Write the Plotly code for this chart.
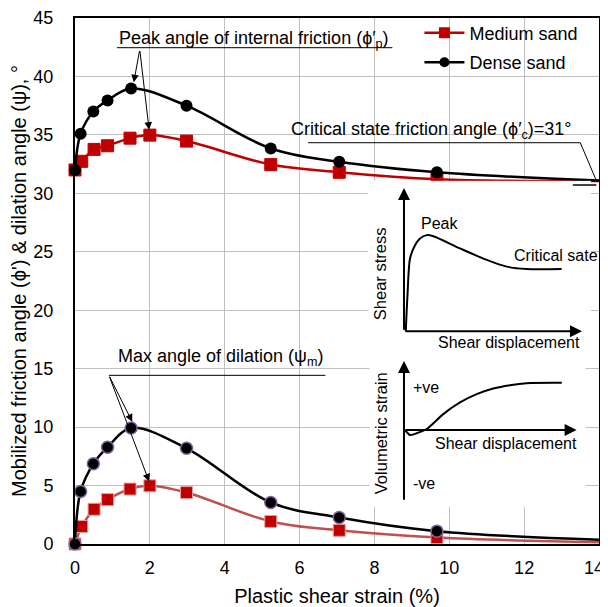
import plotly.graph_objects as go

# ---------------- data ----------------
strain_dense = [0, 0.15, 0.49, 0.87, 1.5, 2.98, 5.23, 7.06, 9.67]
strain_medium = [0, 0.18, 0.51, 0.87, 1.47, 2.0, 2.98, 5.23, 7.06, 9.67]
friction_dense = [32.0, 35.1, 37.0, 37.95, 38.97, 37.5, 33.84, 32.7, 31.8]
friction_medium = [32.0, 32.74, 33.76, 34.07, 34.72, 34.98, 34.47, 32.46, 31.8, 31.2]
dilation_dense = [0, 4.5, 6.86, 8.28, 9.92, 8.19, 3.55, 2.27, 1.1]
dilation_medium = [0, 1.5, 2.97, 3.8, 4.7, 4.98, 4.4, 1.93, 1.17, 0.55]
end_strain = [14]
end_friction_dense = [31.1]
end_friction_medium = [31.05]
end_dilation_dense = [0.37]
end_dilation_medium = [0.15]

# schematic inset curves (arbitrary units)
stress_disp = [0.1, 0.2, 0.34, 0.62, 0.9, 1.28, 1.65, 3.15, 4.65, 5.77, 6.89, 8.86]
stress_val = [0.0, 2.6, 5.08, 6.0, 6.48, 6.71, 6.63, 5.78, 4.98, 4.51, 4.35, 4.35]
vol_disp = [0.06, 0.35, 0.81, 1.31, 2.27, 3.24, 4.2, 5.16, 6.13, 7.09, 9.12]
vol_val = [0.0, -0.36, -0.2, 0.07, 1.13, 1.96, 2.55, 2.95, 3.19, 3.33, 3.36]

x_ticks = [0, 2, 4, 6, 8, 10, 12, 14]
x_ticktext = ["0", "2", "4", "6", "8", "10", "12", "14\u00a0\u00a0"]
y_ticks = [0, 5, 10, 15, 20, 25, 30, 35, 40, 45]

FONT = "Arial, Liberation Sans, sans-serif"
RED = "#C00000"
RED_LIGHT = "#C0504D"

fig = go.Figure()

# medium sand - friction
fig.add_trace(go.Scatter(x=strain_medium + end_strain, y=friction_medium + end_friction_medium,
                         mode="lines", line=dict(color=RED, width=2.5, shape="spline", smoothing=1),
                         showlegend=False, hoverinfo="skip"))
fig.add_trace(go.Scatter(x=strain_medium, y=friction_medium, mode="markers",
                         marker=dict(symbol="square", size=12, color=RED, line=dict(color=RED, width=1)),
                         showlegend=False, cliponaxis=False))
# medium sand - dilation
fig.add_trace(go.Scatter(x=strain_medium + end_strain, y=dilation_medium + end_dilation_medium,
                         mode="lines", line=dict(color=RED_LIGHT, width=2.5, shape="spline", smoothing=1),
                         showlegend=False, hoverinfo="skip", cliponaxis=False))
fig.add_trace(go.Scatter(x=strain_medium, y=dilation_medium, mode="markers",
                         marker=dict(symbol="square", size=12, color=RED, line=dict(color="#E6A0A0", width=1)),
                         showlegend=False, cliponaxis=False))
# dense sand - friction
fig.add_trace(go.Scatter(x=strain_dense + end_strain, y=friction_dense + end_friction_dense,
                         mode="lines", line=dict(color="black", width=2.5, shape="spline", smoothing=1),
                         showlegend=False, hoverinfo="skip"))
fig.add_trace(go.Scatter(x=strain_dense, y=friction_dense, mode="markers",
                         marker=dict(symbol="circle", size=12, color="black"),
                         showlegend=False, cliponaxis=False))
# dense sand - dilation
fig.add_trace(go.Scatter(x=strain_dense + end_strain, y=dilation_dense + end_dilation_dense,
                         mode="lines", line=dict(color="black", width=2.5, shape="spline", smoothing=1),
                         showlegend=False, hoverinfo="skip", cliponaxis=False))
fig.add_trace(go.Scatter(x=strain_dense, y=dilation_dense, mode="markers",
                         marker=dict(symbol="circle", size=12, color="black", line=dict(color="#8064A2", width=1.5)),
                         showlegend=False, cliponaxis=False))

# legend entries
fig.add_trace(go.Scatter(x=[None], y=[None], mode="lines+markers", name="Medium sand",
                         legendgroup="m", line=dict(color=RED, width=2.5),
                         marker=dict(symbol="square", size=11, color=RED)))
fig.add_trace(go.Scatter(x=[None], y=[None], mode="lines+markers", name="Dense sand",
                         legendgroup="d", line=dict(color="black", width=2.5),
                         marker=dict(symbol="circle", size=10, color="black")))

# inset schematic curves
fig.add_trace(go.Scatter(x=stress_disp, y=stress_val, xaxis="x2", yaxis="y2", mode="lines",
                         line=dict(color="black", width=2, shape="spline", smoothing=0.8),
                         showlegend=False, hoverinfo="skip"))
fig.add_trace(go.Scatter(x=vol_disp, y=vol_val, xaxis="x3", yaxis="y3", mode="lines",
                         line=dict(color="black", width=2, shape="spline", smoothing=0.8),
                         showlegend=False, hoverinfo="skip"))

axis_common = dict(showgrid=True, gridcolor="#C0C0C0", gridwidth=1, showline=True,
                   linecolor="black", linewidth=2, mirror=True, ticks="", zeroline=False,
                   automargin=False, ticklabeloverflow="allow",
                   tickfont=dict(family=FONT, size=18, color="black"))

fig.update_layout(
    width=600, height=599,
    margin=dict(l=67, r=9, t=7, b=63),
    paper_bgcolor="white", plot_bgcolor="white",
    font=dict(family=FONT, size=18, color="black"),
    xaxis=dict(range=[0, 14], tickvals=x_ticks, ticktext=x_ticktext, ticklabelstandoff=6,
               title=dict(text="Plastic shear strain (%)", font=dict(size=20), standoff=12),
               **axis_common),
    yaxis=dict(range=[0, 45], tickvals=y_ticks, ticklabelstandoff=16,
               title=dict(text="Mobilized friction angle (ϕ') &amp; dilation angle (ψ), °",
                          font=dict(size=20), standoff=4),
               **axis_common),
    xaxis2=dict(domain=[0.5599, 0.9845], range=[-2, 10.5], anchor="y2", visible=False),
    yaxis2=dict(domain=[0.3501, 0.6904], range=[-2, 10.5], anchor="x2", visible=False),
    xaxis3=dict(domain=[0.5618, 0.9745], range=[-2, 10.5], anchor="y3", visible=False),
    yaxis3=dict(domain=[0.0702, 0.3501], range=[-5.5, 5], anchor="x3", visible=False),
    legend=dict(x=0.6573, y=1.0065, xanchor="left", yanchor="top", bgcolor="rgba(0,0,0,0)",
                font=dict(size=18), tracegroupgap=3, itemwidth=40),
    showlegend=True,
)

ann = []
# callout texts
ann.append(dict(x=1.11, y=43.14, xref="x", yref="y", xanchor="left", yanchor="middle",
                text="Peak angle of internal friction (ϕ′<sub>p</sub>)", showarrow=False, font=dict(size=18)))
ann.append(dict(x=5.72, y=35.41, xref="x", yref="y", xanchor="left", yanchor="middle",
                text="Critical state friction angle (ϕ′<sub>c</sub>)=31°", showarrow=False, font=dict(size=18)))
ann.append(dict(x=1.10, y=15.98, xref="x", yref="y", xanchor="left", yanchor="middle",
                text="Max angle of dilation (ψ<sub>m</sub>)", showarrow=False, font=dict(size=18)))
# callout arrows
for hx, hy, tx, ty in [(1.57, 39.5, 1.73, 42.3), (1.98, 35.44, 1.73, 42.3),
                       (1.53, 10.46, 0.906, 14.43), (1.98, 5.36, 0.906, 14.43)]:
    ann.append(dict(x=hx, y=hy, ax=tx, ay=ty, xref="x", yref="y", axref="x", ayref="y",
                    text="", showarrow=True, arrowhead=2, arrowsize=1.5, arrowwidth=1,
                    arrowcolor="black", standoff=0))
# inset 1 axes arrows and labels
ann.append(dict(x=0, y=10, ax=0, ay=0, xref="x2", yref="y2", axref="x2", ayref="y2", text="",
                showarrow=True, arrowhead=2, arrowsize=1.2, arrowwidth=2, arrowcolor="black", standoff=0))
ann.append(dict(x=10, y=0, ax=0, ay=0, xref="x2", yref="y2", axref="x2", ayref="y2", text="",
                showarrow=True, arrowhead=2, arrowsize=1.2, arrowwidth=2, arrowcolor="black", standoff=0))
ann.append(dict(x=0.86, y=7.52, xref="x2", yref="y2", xanchor="left", yanchor="middle",
                text="Peak", showarrow=False, font=dict(size=16)))
ann.append(dict(x=6.05, y=5.28, xref="x2", yref="y2", xanchor="left", yanchor="middle",
                text="Critical sate", showarrow=False, font=dict(size=16)))
ann.append(dict(x=1.8, y=-0.81, xref="x2", yref="y2", xanchor="left", yanchor="middle",
                text="Shear displacement", showarrow=False, font=dict(size=16)))
ann.append(dict(x=-1.35, y=4.05, xref="x2", yref="y2", xanchor="center", yanchor="middle",
                text="Shear stress", showarrow=False, textangle=-90, font=dict(size=16.5)))
# inset 2 axes arrows and labels
ann.append(dict(x=0, y=4.92, ax=0, ay=-5.08, xref="x3", yref="y3", axref="x3", ayref="y3", text="",
                showarrow=True, arrowhead=2, arrowsize=1.2, arrowwidth=2, arrowcolor="black", standoff=0))
ann.append(dict(x=9.98, y=0, ax=0, ay=0, xref="x3", yref="y3", axref="x3", ayref="y3", text="",
                showarrow=True, arrowhead=2, arrowsize=1.2, arrowwidth=2, arrowcolor="black", standoff=0))
ann.append(dict(x=0.39, y=3.0, xref="x3", yref="y3", xanchor="left", yanchor="middle",
                text="+ve", showarrow=False, font=dict(size=16)))
ann.append(dict(x=0.39, y=-3.83, xref="x3", yref="y3", xanchor="left", yanchor="middle",
                text="-ve", showarrow=False, font=dict(size=16)))
ann.append(dict(x=1.69, y=-1.0, xref="x3", yref="y3", xanchor="left", yanchor="middle",
                text="Shear displacement", showarrow=False, font=dict(size=16)))
ann.append(dict(x=-1.35, y=-0.26, xref="x3", yref="y3", xanchor="center", yanchor="middle",
                text="Volumetric strain", showarrow=False, textangle=-90, font=dict(size=16.5)))
fig.update_layout(annotations=ann)

# callout leader lines
shapes = [
    dict(type="line", xref="x", yref="y", x0=1.12, y0=42.46, x1=8.48, y1=42.46, line=dict(color="black", width=1)),
    dict(type="line", xref="x", yref="y", x0=0.906, y0=14.43, x1=6.69, y1=14.43, line=dict(color="black", width=1)),
    dict(type="line", xref="x", yref="y", x0=6.23, y0=34.33, x1=13.5, y1=34.33, line=dict(color="black", width=1)),
    dict(type="line", xref="x", yref="y", x0=13.5, y0=34.33, x1=13.93, y1=31.08, line=dict(color="black", width=1)),
    dict(type="line", xref="x", yref="y", x0=13.3, y0=30.71, x1=13.93, y1=30.71, line=dict(color="#404040", width=2)),
]
fig.update_layout(shapes=shapes)

fig.write_html("out.html")
